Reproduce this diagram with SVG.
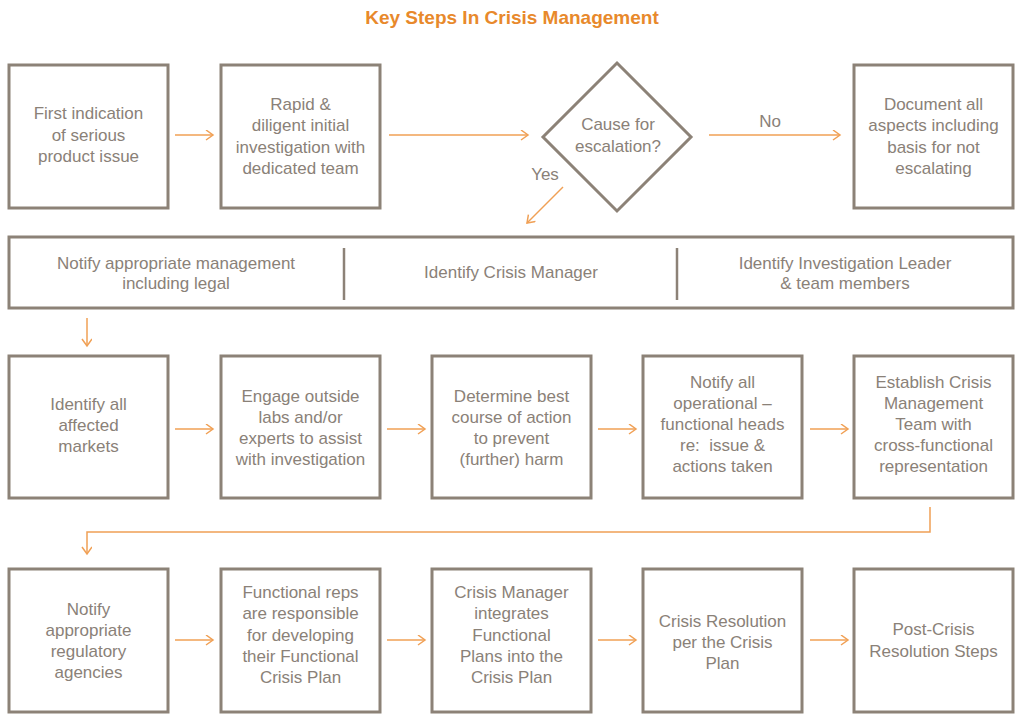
<svg xmlns="http://www.w3.org/2000/svg" width="1024" height="721" viewBox="0 0 1024 721">
<style>
.box{fill:#fff;stroke:#8c8277;stroke-width:3}
.div{stroke:#8c8277;stroke-width:2.5}
.t{font-family:"Liberation Sans",Arial,sans-serif;font-size:17px;fill:#8a8178;text-anchor:middle}
.title{font-family:"Liberation Sans",Arial,sans-serif;font-size:19px;font-weight:bold;fill:#e8892b;text-anchor:middle}
.c{fill:none;stroke:#f0a055;stroke-width:1.5}
</style>
<defs>
<marker id="ah" markerUnits="userSpaceOnUse" markerWidth="12" markerHeight="12" refX="8" refY="5" orient="auto">
<path d="M1,0 L8,5 L1,10" fill="none" stroke="#f0a055" stroke-width="1.5"/>
</marker>
</defs>
<rect width="1024" height="721" fill="#fff"/>
<text class="title" x="512" y="24">Key Steps In Crisis Management</text>

<g id="connectors">
<line class="c" x1="175" y1="135" x2="213" y2="135" marker-end="url(#ah)"/>
<line class="c" x1="389" y1="135" x2="528" y2="135" marker-end="url(#ah)"/>
<line class="c" x1="709" y1="135" x2="840" y2="135" marker-end="url(#ah)"/>
<line class="c" x1="563" y1="187" x2="527" y2="223" marker-end="url(#ah)"/>
<line class="c" x1="87" y1="318" x2="87" y2="346" marker-end="url(#ah)"/>
<line class="c" x1="175" y1="429" x2="213" y2="429" marker-end="url(#ah)"/>
<line class="c" x1="387" y1="429" x2="425" y2="429" marker-end="url(#ah)"/>
<line class="c" x1="598" y1="429" x2="636" y2="429" marker-end="url(#ah)"/>
<line class="c" x1="810" y1="429" x2="848" y2="429" marker-end="url(#ah)"/>
<path class="c" d="M930,507 V532 H87 V554" marker-end="url(#ah)"/>
<line class="c" x1="175" y1="640" x2="213" y2="640" marker-end="url(#ah)"/>
<line class="c" x1="387" y1="640" x2="425" y2="640" marker-end="url(#ah)"/>
<line class="c" x1="598" y1="640" x2="636" y2="640" marker-end="url(#ah)"/>
<line class="c" x1="810" y1="640" x2="848" y2="640" marker-end="url(#ah)"/>
<text class="t" x="770" y="127">No</text>
<text class="t" x="545" y="180">Yes</text>
</g>

<g id="n1"><rect class="box" x="9" y="65" width="159" height="143"/>
<text class="t" x="88.5" y="119">First indication</text><text class="t" x="88.5" y="140.5">of serious</text><text class="t" x="88.5" y="162">product issue</text></g>
<g id="n2"><rect class="box" x="221" y="65" width="159" height="143"/>
<text class="t" x="300.5" y="110">Rapid &amp;</text><text class="t" x="300.5" y="131.3">diligent initial</text><text class="t" x="300.5" y="152.6">investigation with</text><text class="t" x="300.5" y="174">dedicated team</text></g>
<g id="n3"><polygon class="box" points="617,63 691,137 617,211 543,137"/>
<text class="t" x="618" y="130">Cause for</text><text class="t" x="618" y="152">escalation?</text></g>
<g id="n4"><rect class="box" x="854" y="65" width="159" height="143"/>
<text class="t" x="933.5" y="110">Document all</text><text class="t" x="933.5" y="131.3">aspects including</text><text class="t" x="933.5" y="152.6">basis for not</text><text class="t" x="933.5" y="174">escalating</text></g>

<g id="n5"><rect class="box" x="9" y="237" width="1004" height="71"/>
<line class="div" x1="344" y1="248" x2="344" y2="300"/>
<line class="div" x1="677" y1="248" x2="677" y2="300"/>
<text class="t" x="176" y="269">Notify appropriate management</text><text class="t" x="176" y="289">including legal</text>
<text class="t" x="511" y="278">Identify Crisis Manager</text>
<text class="t" x="845" y="269">Identify Investigation Leader</text><text class="t" x="845" y="289">&amp; team members</text></g>

<g id="n6"><rect class="box" x="9" y="356" width="159" height="142"/>
<text class="t" x="88.5" y="410">Identify all</text><text class="t" x="88.5" y="431">affected</text><text class="t" x="88.5" y="452">markets</text></g>
<g id="n7"><rect class="box" x="221" y="356" width="159" height="142"/>
<text class="t" x="300.5" y="402">Engage outside</text><text class="t" x="300.5" y="423">labs and/or</text><text class="t" x="300.5" y="444">experts to assist</text><text class="t" x="300.5" y="465">with investigation</text></g>
<g id="n8"><rect class="box" x="432" y="356" width="159" height="142"/>
<text class="t" x="511.5" y="402">Determine best</text><text class="t" x="511.5" y="423">course of action</text><text class="t" x="511.5" y="444">to prevent</text><text class="t" x="511.5" y="465">(further) harm</text></g>
<g id="n9"><rect class="box" x="643" y="356" width="159" height="142"/>
<text class="t" x="722.5" y="388">Notify all</text><text class="t" x="722.5" y="409">operational –</text><text class="t" x="722.5" y="430">functional heads</text><text class="t" x="722.5" y="451" xml:space="preserve">re:  issue &amp;</text><text class="t" x="722.5" y="472">actions taken</text></g>
<g id="n10"><rect class="box" x="854" y="356" width="159" height="142"/>
<text class="t" x="933.5" y="388">Establish Crisis</text><text class="t" x="933.5" y="409">Management</text><text class="t" x="933.5" y="430">Team with</text><text class="t" x="933.5" y="451">cross-functional</text><text class="t" x="933.5" y="472">representation</text></g>

<g id="n11"><rect class="box" x="9" y="569" width="159" height="143"/>
<text class="t" x="88.5" y="615">Notify</text><text class="t" x="88.5" y="636">appropriate</text><text class="t" x="88.5" y="657">regulatory</text><text class="t" x="88.5" y="678">agencies</text></g>
<g id="n12"><rect class="box" x="221" y="569" width="159" height="143"/>
<text class="t" x="300.5" y="598">Functional reps</text><text class="t" x="300.5" y="619.3">are responsible</text><text class="t" x="300.5" y="640.6">for developing</text><text class="t" x="300.5" y="661.9">their Functional</text><text class="t" x="300.5" y="683.2">Crisis Plan</text></g>
<g id="n13"><rect class="box" x="432" y="569" width="159" height="143"/>
<text class="t" x="511.5" y="598">Crisis Manager</text><text class="t" x="511.5" y="619.3">integrates</text><text class="t" x="511.5" y="640.6">Functional</text><text class="t" x="511.5" y="661.9">Plans into the</text><text class="t" x="511.5" y="683.2">Crisis Plan</text></g>
<g id="n14"><rect class="box" x="643" y="569" width="159" height="143"/>
<text class="t" x="722.5" y="627">Crisis Resolution</text><text class="t" x="722.5" y="648">per the Crisis</text><text class="t" x="722.5" y="669">Plan</text></g>
<g id="n15"><rect class="box" x="854" y="569" width="159" height="143"/>
<text class="t" x="933.5" y="635">Post-Crisis</text><text class="t" x="933.5" y="657">Resolution Steps</text></g>
</svg>
